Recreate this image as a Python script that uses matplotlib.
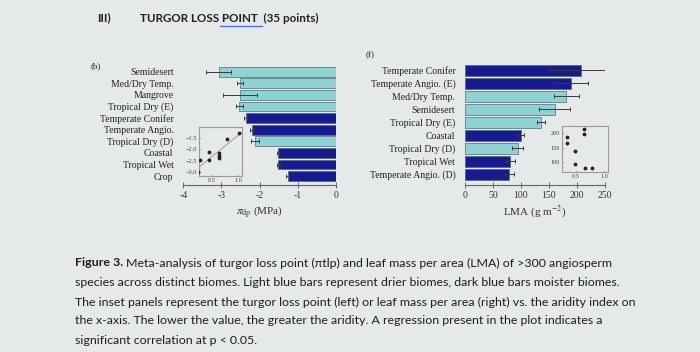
import numpy as np
import matplotlib.pyplot as plt
from matplotlib.lines import Line2D

# Panel (b): turgor loss point per biome (MPa)
tlp_biomes = ['Semidesert', 'Med/Dry Temp.', 'Mangrove', 'Tropical Dry (E)',
              'Temperate Conifer', 'Temperate Angio.', 'Tropical Dry (D)',
              'Coastal', 'Tropical Wet', 'Crop']
tlp_values = [-3.07, -2.51, -2.51, -2.53, -2.37, -2.20, -2.12, -1.52, -1.51, -1.27]
tlp_errors = [0.33, 0.08, 0.45, 0.10, 0.05, 0.05, 0.10, 0.03, 0.03, 0.05]
tlp_dry = [True, True, True, True, False, False, True, False, False, False]

# inset: tlp vs aridity index
tlp_ai = [1.01, 0.79, 0.45, 0.26, 0.45, 0.64, 0.64, 0.64, 0.24]
tlp_ai_val = [-1.25, -1.52, -2.12, -2.48, -2.48, -2.17, -2.27, -2.38, -3.0]

# Panel (f): LMA per biome (g m-2)
lma_biomes = ['Temperate Conifer', 'Temperate Angio. (E)', 'Med/Dry Temp.',
              'Semidesert', 'Tropical Dry (E)', 'Coastal', 'Tropical Dry (D)',
              'Tropical Wet', 'Temperate Angio. (D)']
lma_values = [207, 189, 181, 160, 136, 100, 94, 81, 79]
lma_errors = [56, 31, 22, 27, 7, 5, 10, 8, 8]
lma_dry = [False, False, True, True, True, False, True, False, False]

# inset: LMA vs aridity index
lma_ai = [0.65, 0.65, 0.34, 0.34, 0.49, 0.49, 0.66, 0.79]
lma_ai_val = [215, 197, 186, 165, 138, 92, 81, 81]

DARK = '#161c8f'
LIGHT = '#8fd2d3'
W, H = 700, 352

plt.rcParams['font.family'] = ['Liberation Serif', 'DejaVu Serif']
plt.rcParams['mathtext.fontset'] = 'stix'

fig = plt.figure(figsize=(7, 3.52), dpi=100, facecolor='#e5e9e9')


def ax_px(l, t, r, b):
    return fig.add_axes([l / W, 1 - b / H, (r - l) / W, (b - t) / H])


def style_main(ax):
    for s in ['left', 'right', 'top']:
        ax.spines[s].set_visible(False)
    ax.spines['bottom'].set_color('#666666')
    ax.spines['bottom'].set_linewidth(0.8)
    ax.set_facecolor('none')
    ax.tick_params(axis='x', direction='inout', length=4, width=0.7,
                   colors='#666666', labelcolor='#333333', labelsize=7, pad=2)
    ax.tick_params(axis='y', length=0, labelsize=7, labelcolor='#222222', pad=7)


def style_inset(ax):
    ax.set_facecolor('none')
    for s in ax.spines.values():
        s.set_color('#9a9a9a')
        s.set_linewidth(0.8)
    ax.tick_params(direction='in', length=1.5, width=0.5, colors='#999999',
                   labelcolor='#444444', labelsize=4.5, pad=1.5)


# ---- panel (b)
ax1 = ax_px(183.3, 65.9, 336, 185)
y1 = np.arange(len(tlp_biomes))
cols1 = [LIGHT if d else DARK for d in tlp_dry]
ax1.barh(y1, tlp_values, height=0.85, color=cols1, edgecolor='#4f6b72', linewidth=0.5)
ax1.errorbar(tlp_values, y1, xerr=tlp_errors, fmt='none', ecolor='#3a3a3a',
             elinewidth=0.7, capsize=1.5, capthick=0.7)
ax1.set_xlim(-4, 0)
ax1.set_ylim(9.76, -0.49)
ax1.set_xticks([-4, -3, -2, -1, 0])
ax1.set_xticklabels(['-4', '-3', '-2', '-1', '0'])
ax1.set_yticks(y1)
ax1.set_yticklabels(tlp_biomes)
ax1.set_xlabel(r'$\pi_{\rm tlp}$ (MPa)', fontsize=8, color='#333333', labelpad=3)
style_main(ax1)

in1 = ax_px(199, 127, 242, 176)
in1.scatter(tlp_ai, tlp_ai_val, s=3, color='#222222', zorder=3)
k, c = np.polyfit(tlp_ai, tlp_ai_val, 1)
xx = np.array([0.25, 1.077])
in1.plot(xx, k * xx + c, color='#9a9a9a', lw=0.7)
in1.set_xlim(0.25, 1.077)
in1.set_ylim(-3.19, -0.99)
in1.set_xticks([0.5, 1.0])
in1.set_yticks([-1.5, -2.0, -2.5, -3.0])
style_inset(in1)

# ---- panel (f)
ax2 = ax_px(465, 64, 605, 185)
y2 = np.arange(len(lma_biomes))
cols2 = [LIGHT if d else DARK for d in lma_dry]
ax2.barh(y2, lma_values, height=0.8, color=cols2, edgecolor='#4f6b72', linewidth=0.5)
ax2.errorbar(lma_values, y2, xerr=lma_errors, fmt='none', ecolor='#3a3a3a',
             elinewidth=0.7, capsize=1.5, capthick=0.7)
ax2.set_xlim(0, 250)
ax2.set_ylim(8.82, -0.5)
ax2.set_xticks([0, 50, 100, 150, 200, 250])
ax2.set_yticks(y2)
ax2.set_yticklabels(lma_biomes)
ax2.set_xlabel(r'LMA (g m$^{-2}$)', fontsize=8, color='#333333', labelpad=3)
style_main(ax2)

in2 = ax_px(562, 126, 608, 172)
in2.scatter(lma_ai, lma_ai_val, s=3, color='#222222', zorder=3)
in2.set_xlim(0.26, 1.07)
in2.set_ylim(66, 225)
in2.set_xticks([0.5, 1.0])
in2.set_yticks([100, 150, 200])
style_inset(in2)

fig.text(96 / W, 1 - 66 / H, '(b)', fontsize=6.5, color='#222222', va='center', ha='center')
fig.text(370 / W, 1 - 55 / H, '(f)', fontsize=6.5, color='#222222', va='center', ha='center')

# ---- heading
sans = ['Lato', 'DejaVu Sans']
fig.text(97 / W, 1 - 18 / H, 'III)', family=sans, fontsize=8.4, fontweight='bold',
         color='#222222', va='center')
fig.text(140 / W, 1 - 18 / H, 'TURGOR LOSS POINT  (35 points)', family=sans,
         fontsize=8.4, fontweight='bold', color='#222222', va='center')
fig.add_artist(Line2D([220 / W, 262 / W], [1 - 26 / H, 1 - 26 / H],
                      color='#4d73c9', lw=1))

# ---- caption
cap_lines = [
    'Meta-analysis of turgor loss point (\u03c0tlp) and leaf mass per area (LMA) of >300 angiosperm',
    'species across distinct biomes. Light blue bars represent drier biomes, dark blue bars moister biomes.',
    'The inset panels represent the turgor loss point (left) or leaf mass per area (right) vs. the aridity index on',
    'the x-axis. The lower the value, the greater the aridity. A regression present in the plot indicates a',
    'significant correlation at p < 0.05.',
]
cap_y = [263, 283, 302, 321, 340]
bold = fig.text(75 / W, 1 - cap_y[0] / H, 'Figure 3.', family=sans, fontsize=8.9,
                fontweight='bold', color='#1e1e1e', va='center')
r = fig.canvas.get_renderer()
bb = bold.get_window_extent(renderer=r)
fig.text(bb.x1 / W + 3 / W, 1 - cap_y[0] / H, cap_lines[0], family=sans,
         fontsize=8.9, color='#1e1e1e', va='center')
for line, yy in zip(cap_lines[1:], cap_y[1:]):
    fig.text(75 / W, 1 - yy / H, line, family=sans, fontsize=8.9,
             color='#1e1e1e', va='center')

fig.savefig('out.png', dpi=100, facecolor=fig.get_facecolor())
